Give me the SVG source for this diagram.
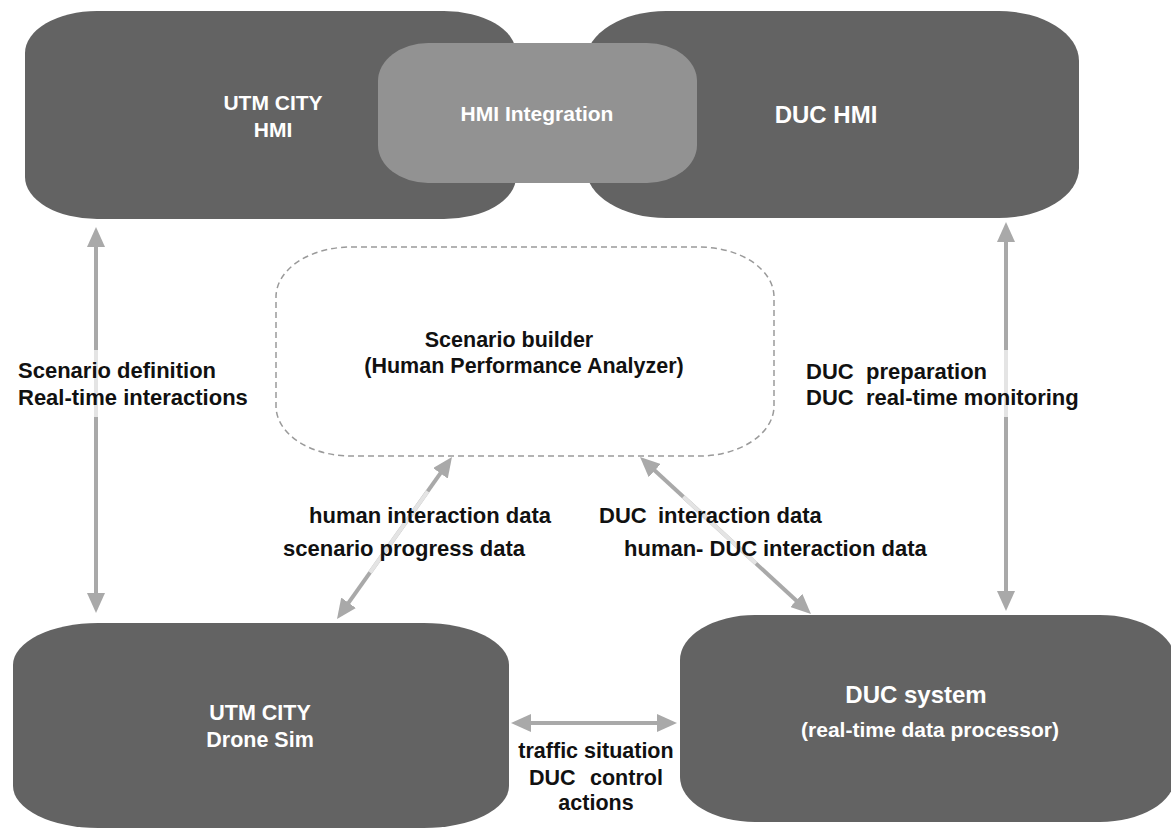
<svg xmlns="http://www.w3.org/2000/svg" width="1171" height="830" viewBox="0 0 1171 830">
<defs>
<style>
.box{fill:#636363;}
.integ{fill:#929292;}
.dash{fill:none;stroke:#9a9a9a;stroke-width:1.5;stroke-dasharray:6 4;}
.wt{font-family:"Liberation Sans",Arial,sans-serif;font-weight:bold;fill:#ffffff;text-anchor:middle;}
.lbl{font-family:"Liberation Sans",Arial,sans-serif;font-weight:bold;fill:#111111;font-size:22px;}
.conn{stroke:#a9a9a9;stroke-width:4;fill:none;marker-start:url(#ah);marker-end:url(#ah);}
.fade{stroke:#e4e4e4;stroke-width:4;fill:none;}
</style>
<marker id="ah" viewBox="0 0 20 18" refX="10" refY="9" markerWidth="20" markerHeight="18" markerUnits="userSpaceOnUse" orient="auto-start-reverse">
<path d="M0,0 L20,9 L0,18 z" fill="#a9a9a9"/>
</marker>
</defs>
<rect width="1171" height="830" fill="#ffffff"/>

<g id="utm-city-hmi">
<rect class="box" x="25" y="11" width="491" height="208" rx="72" ry="42"/>
<text class="wt" x="273" y="110" font-size="21">UTM CITY</text>
<text class="wt" x="273" y="137" font-size="21">HMI</text>
</g>

<g id="duc-hmi">
<rect class="box" x="586" y="11" width="493" height="207" rx="80" ry="50"/>
<text class="wt" x="826" y="123" font-size="24">DUC HMI</text>
</g>

<g id="hmi-integration">
<rect class="integ" x="378" y="43" width="319" height="140" rx="50" ry="38"/>
<text class="wt" x="537" y="121" font-size="21" fill="#f4f4f4">HMI Integration</text>
</g>

<g id="scenario-builder">
<rect class="dash" x="276" y="247" width="498" height="209" rx="75" ry="50"/>
<text class="lbl" x="509" y="347" text-anchor="middle" style="font-size:21.5px">Scenario builder</text>
<text class="lbl" x="524" y="373" text-anchor="middle" style="font-size:21.5px">(Human Performance Analyzer)</text>
</g>

<g id="utm-city-drone-sim">
<rect class="box" x="13" y="623" width="496" height="205" rx="85" ry="42"/>
<text class="wt" x="260" y="720" font-size="21.5">UTM CITY</text>
<text class="wt" x="260" y="747" font-size="21.5">Drone Sim</text>
</g>

<g id="duc-system">
<rect class="box" x="680" y="615" width="495" height="207" rx="75" ry="45"/>
<text class="wt" x="916" y="703" font-size="24">DUC system</text>
<text class="wt" x="930" y="737" font-size="21">(real-time data processor)</text>
</g>

<g id="connectors">
<line class="conn" x1="96" y1="237" x2="96" y2="603"/>
<line class="fade" x1="96" y1="350" x2="96" y2="417"/>
<line class="conn" x1="1006" y1="232" x2="1006" y2="601"/>
<line class="fade" x1="1006" y1="350" x2="1006" y2="417"/>
<line class="conn" x1="446.2" y1="465.2" x2="342.8" y2="610.9"/>
<line class="fade" x1="427.7" y1="491.3" x2="370" y2="572.5"/>
<line class="conn" x1="647.4" y1="463.8" x2="803.6" y2="607.2"/>
<line class="fade" x1="683.3" y1="496.8" x2="756" y2="563.5"/>
<line class="conn" x1="521" y1="723" x2="667" y2="723"/>
</g>

<g id="labels">
<text class="lbl" x="18" y="378">Scenario definition</text>
<text class="lbl" x="18" y="405">Real-time interactions</text>
<text class="lbl" y="379"><tspan x="806">DUC</tspan><tspan x="866">preparation</tspan></text>
<text class="lbl" y="405"><tspan x="806">DUC</tspan><tspan x="866">real-time monitoring</tspan></text>
<text class="lbl" x="309" y="523">human interaction data</text>
<text class="lbl" x="283" y="556">scenario progress data</text>
<text class="lbl" y="523"><tspan x="599">DUC</tspan><tspan x="658">interaction data</tspan></text>
<text class="lbl" y="556"><tspan x="624">human- DUC</tspan><tspan x="763">interaction data</tspan></text>
<text class="lbl" x="596" y="758" text-anchor="middle" style="font-size:21.5px">traffic situation</text>
<text class="lbl" y="785" style="font-size:21.5px"><tspan x="529">DUC</tspan><tspan x="590">control</tspan></text>
<text class="lbl" x="596" y="810" text-anchor="middle" style="font-size:21.5px">actions</text>
</g>
</svg>
